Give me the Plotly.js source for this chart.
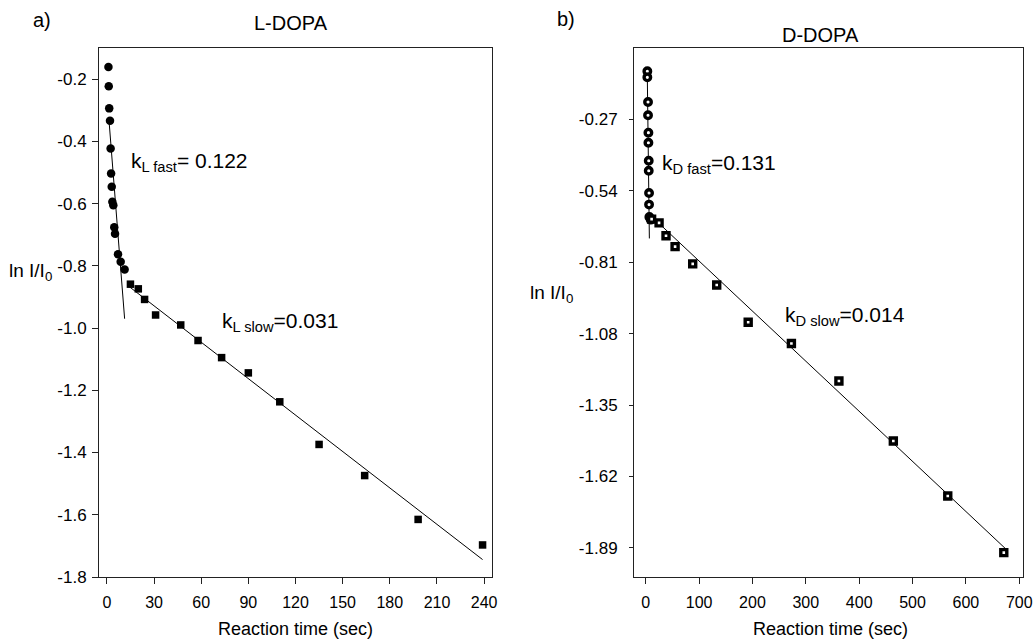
<!DOCTYPE html>
<html>
<head>
<meta charset="utf-8">
<script src="https://cdn.plot.ly/plotly-3.0.1.min.js"></script>
<style>html,body{margin:0;padding:0;background:#fff;}#chart{width:1033px;height:640px;}</style>
</head>
<body>
<div id="chart"></div>
<script>
// L-DOPA (panel a)
const lFastTime = [1.0, 1.2, 1.5, 2.0, 2.4, 2.7, 3.1, 3.5, 4.1, 4.7, 5.2, 7.1, 8.8, 11.3];
const lFastLnI  = [-0.161, -0.223, -0.294, -0.334, -0.423, -0.503, -0.546, -0.594, -0.605, -0.676, -0.697, -0.763, -0.787, -0.812];
const lSlowTime = [15, 20, 24, 31, 47, 58, 73, 90, 110, 135, 164, 198, 239];
const lSlowLnI  = [-0.859, -0.874, -0.908, -0.958, -0.99, -1.04, -1.095, -1.144, -1.237, -1.374, -1.474, -1.615, -1.697];
const lFastFitTime = [1.4, 11.3];
const lFastFitLnI  = [-0.335, -0.97];
const lSlowFitTime = [14, 239];
const lSlowFitLnI  = [-0.866, -1.744];

// D-DOPA (panel b)
const dFastTime = [3.0, 3.0, 4.3, 4.3, 5.0, 5.0, 5.6, 5.6, 6.2, 6.2, 6.8, 9.4];
const dFastLnI  = [-0.088, -0.111, -0.204, -0.254, -0.32, -0.358, -0.426, -0.464, -0.548, -0.592, -0.639, -0.649];
const dSlowTime = [11, 25, 38, 55, 88, 133, 192, 273, 362, 464, 566, 671];
const dSlowLnI  = [-0.647, -0.661, -0.710, -0.751, -0.816, -0.896, -1.037, -1.117, -1.259, -1.486, -1.694, -1.908];
const dFastFitTime = [3.0, 6.8];
const dFastFitLnI  = [-0.115, -0.72];
const dSlowFitTime = [10, 678];
const dSlowFitLnI  = [-0.635, -1.90];

// tick labels
const lXTicks = [0, 30, 60, 90, 120, 150, 180, 210, 240];
const lYTicks = [-1.8, -1.6, -1.4, -1.2, -1.0, -0.8, -0.6, -0.4, -0.2];
const lYTickText = ['-1.8', '-1.6', '-1.4', '-1.2', '-1.0', '-0.8', '-0.6', '-0.4', '-0.2'];
const dXTicks = [0, 100, 200, 300, 400, 500, 600, 700];
const dYTicks = [-1.89, -1.62, -1.35, -1.08, -0.81, -0.54, -0.27];
const dYTickText = ['-1.89', '-1.62', '-1.35', '-1.08', '-0.81', '-0.54', '-0.27'];

const FONT = 'Liberation Sans, Arial, Helvetica, sans-serif';
const W = 1033, H = 640;
const px = v => v / W;
const py = v => 1 - v / H;

const lineStyle = {color: '#000', width: 1};
const traces = [
  {x: lFastFitTime, y: lFastFitLnI, mode: 'lines', line: lineStyle, xaxis: 'x', yaxis: 'y', hoverinfo: 'skip'},
  {x: lSlowFitTime, y: lSlowFitLnI, mode: 'lines', line: lineStyle, xaxis: 'x', yaxis: 'y', hoverinfo: 'skip'},
  {x: lFastTime, y: lFastLnI, mode: 'markers', marker: {symbol: 'circle', size: 8.5, color: '#000'}, xaxis: 'x', yaxis: 'y'},
  {x: lSlowTime, y: lSlowLnI, mode: 'markers', marker: {symbol: 'square', size: 7.5, color: '#000'}, xaxis: 'x', yaxis: 'y'},
  {x: dFastFitTime, y: dFastFitLnI, mode: 'lines', line: lineStyle, xaxis: 'x2', yaxis: 'y2', hoverinfo: 'skip'},
  {x: dSlowFitTime, y: dSlowFitLnI, mode: 'lines', line: lineStyle, xaxis: 'x2', yaxis: 'y2', hoverinfo: 'skip'},
  {x: dFastTime, y: dFastLnI, mode: 'markers', marker: {symbol: 'circle', size: 6.5, color: '#fff', line: {color: '#000', width: 3.4}}, xaxis: 'x2', yaxis: 'y2'},
  {x: dSlowTime, y: dSlowLnI, mode: 'markers', marker: {symbol: 'square', size: 6, color: '#fff', line: {color: '#000', width: 3.4}}, xaxis: 'x2', yaxis: 'y2'}
];

const axisBase = {
  showline: true, linecolor: '#222', linewidth: 1, mirror: true,
  ticks: 'outside', ticklen: 6, tickwidth: 1, tickcolor: '#222',
  showgrid: false, zeroline: false,
  tickfont: {family: FONT, size: 16, color: '#000'},
  fixedrange: true
};

const layout = {
  width: W, height: H,
  margin: {l: 0, r: 0, t: 0, b: 0},
  paper_bgcolor: '#fff', plot_bgcolor: '#fff',
  showlegend: false,
  font: {family: FONT, color: '#000'},
  xaxis: Object.assign({}, axisBase, {domain: [px(99), px(492)], range: [-5, 245], tickmode: 'array', tickvals: lXTicks, ticklabelstandoff: 5, anchor: 'y'}),
  yaxis: Object.assign({}, axisBase, {domain: [py(577), py(48)], range: [-1.8, -0.1], tickmode: 'array', tickvals: lYTicks, ticktext: lYTickText, ticklabelstandoff: 2, anchor: 'x', tickfont: {family: FONT, size: 17, color: '#000'}}),
  xaxis2: Object.assign({}, axisBase, {domain: [px(634), px(1023)], range: [-22, 707], tickmode: 'array', tickvals: dXTicks, ticklabelstandoff: 5, anchor: 'y2'}),
  yaxis2: Object.assign({}, axisBase, {domain: [py(577), py(48)], range: [-2.0, 0], tickmode: 'array', tickvals: dYTicks, ticktext: dYTickText, ticklen: 4, ticklabelstandoff: 8, anchor: 'x2', tickfont: {family: FONT, size: 17, color: '#000'}}),
  annotations: [
    {text: 'a)', x: px(31), y: py(20), xref: 'paper', yref: 'paper', xanchor: 'left', yanchor: 'middle', showarrow: false, font: {family: FONT, size: 20}},
    {text: 'L-DOPA', x: px(291), y: py(23), xref: 'paper', yref: 'paper', xanchor: 'center', yanchor: 'middle', showarrow: false, font: {family: FONT, size: 20}},
    {text: 'b)', x: px(555), y: py(19), xref: 'paper', yref: 'paper', xanchor: 'left', yanchor: 'middle', showarrow: false, font: {family: FONT, size: 20}},
    {text: 'D-DOPA', x: px(820), y: py(35), xref: 'paper', yref: 'paper', xanchor: 'center', yanchor: 'middle', showarrow: false, font: {family: FONT, size: 20}},
    {text: 'Reaction time (sec)', x: px(295), y: py(629), xref: 'paper', yref: 'paper', xanchor: 'center', yanchor: 'middle', showarrow: false, font: {family: FONT, size: 18}},
    {text: 'Reaction time (sec)', x: px(830), y: py(629), xref: 'paper', yref: 'paper', xanchor: 'center', yanchor: 'middle', showarrow: false, font: {family: FONT, size: 18}},
    {text: 'ln I/I<sub>0</sub>', x: px(7), y: py(272), xref: 'paper', yref: 'paper', xanchor: 'left', yanchor: 'middle', showarrow: false, font: {family: FONT, size: 19}},
    {text: 'ln I/I<sub>0</sub>', x: px(528), y: py(294), xref: 'paper', yref: 'paper', xanchor: 'left', yanchor: 'middle', showarrow: false, font: {family: FONT, size: 19}},
    {text: 'k<sub>L fast</sub>= 0.122', x: px(129), y: py(162), xref: 'paper', yref: 'paper', xanchor: 'left', yanchor: 'middle', showarrow: false, font: {family: FONT, size: 21}},
    {text: 'k<sub>L slow</sub>=0.031', x: px(220), y: py(322), xref: 'paper', yref: 'paper', xanchor: 'left', yanchor: 'middle', showarrow: false, font: {family: FONT, size: 21}},
    {text: 'k<sub>D fast</sub>=0.131', x: px(660), y: py(164), xref: 'paper', yref: 'paper', xanchor: 'left', yanchor: 'middle', showarrow: false, font: {family: FONT, size: 21}},
    {text: 'k<sub>D slow</sub>=0.014', x: px(783), y: py(316), xref: 'paper', yref: 'paper', xanchor: 'left', yanchor: 'middle', showarrow: false, font: {family: FONT, size: 21}}
  ]
};

Plotly.newPlot('chart', traces, layout, {staticPlot: true, displayModeBar: false});
</script>
</body>
</html>
